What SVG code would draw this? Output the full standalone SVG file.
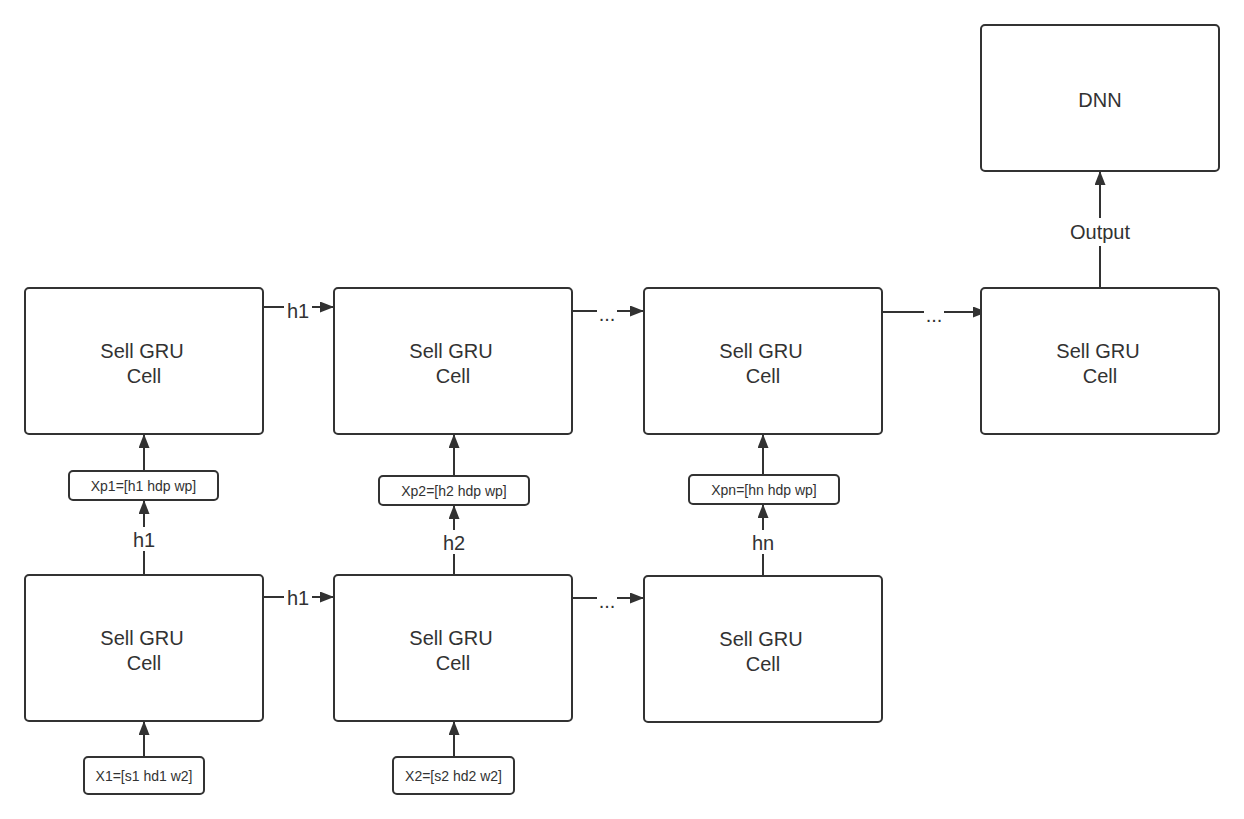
<svg xmlns="http://www.w3.org/2000/svg" width="1244" height="819" viewBox="0 0 1244 819">
<defs>
<marker id="arr" viewBox="0 0 14 11" refX="14" refY="5.5" markerWidth="14" markerHeight="11" markerUnits="userSpaceOnUse" orient="auto">
<path d="M0,0 L14,5.5 L0,11 Z" fill="#323232"/>
</marker>
</defs>
<style>
.box{fill:#fff;stroke:#323232;stroke-width:2}
.t{font-family:"Liberation Sans",Arial,sans-serif;font-size:20px;fill:#323232;text-anchor:middle}
.s{font-family:"Liberation Sans",Arial,sans-serif;font-size:14px;fill:#323232;text-anchor:middle}
.c{stroke:#323232;stroke-width:2;fill:none}
.lb{fill:#fff}
</style>
<rect width="1244" height="819" fill="#fff"/>
<g id="connectors">
<line class="c" x1="263" y1="307" x2="334" y2="307" marker-end="url(#arr)"/>
<rect class="lb" x="284" y="296" width="28" height="22"/>
<text class="t" x="298" y="318">h1</text>
<line class="c" x1="572" y1="311" x2="644" y2="311" marker-end="url(#arr)"/>
<rect class="lb" x="597" y="302" width="20" height="18"/>
<text class="t" x="607" y="321">...</text>
<line class="c" x1="882" y1="312" x2="987" y2="312" marker-end="url(#arr)"/>
<rect class="lb" x="924" y="303" width="20" height="18"/>
<text class="t" x="934" y="322">...</text>
<line class="c" x1="263" y1="597" x2="334" y2="597" marker-end="url(#arr)"/>
<rect class="lb" x="284" y="586" width="28" height="22"/>
<text class="t" x="298" y="605">h1</text>
<line class="c" x1="572" y1="598" x2="644" y2="598" marker-end="url(#arr)"/>
<rect class="lb" x="597" y="589" width="20" height="18"/>
<text class="t" x="607" y="608">...</text>
<line class="c" x1="144" y1="575" x2="144" y2="500" marker-end="url(#arr)"/>
<rect class="lb" x="130" y="527" width="28" height="24"/>
<text class="t" x="144" y="547">h1</text>
<line class="c" x1="144" y1="471" x2="144" y2="434" marker-end="url(#arr)"/>
<line class="c" x1="454" y1="575" x2="454" y2="505" marker-end="url(#arr)"/>
<rect class="lb" x="440" y="530" width="28" height="24"/>
<text class="t" x="454" y="550">h2</text>
<line class="c" x1="454" y1="476" x2="454" y2="434" marker-end="url(#arr)"/>
<line class="c" x1="763" y1="576" x2="763" y2="504" marker-end="url(#arr)"/>
<rect class="lb" x="749" y="530" width="28" height="24"/>
<text class="t" x="763" y="550">hn</text>
<line class="c" x1="763" y1="475" x2="763" y2="434" marker-end="url(#arr)"/>
<line class="c" x1="144" y1="757" x2="144" y2="721" marker-end="url(#arr)"/>
<line class="c" x1="454" y1="757" x2="454" y2="721" marker-end="url(#arr)"/>
<line class="c" x1="1100" y1="288" x2="1100" y2="171" marker-end="url(#arr)"/>
<rect class="lb" x="1062" y="218" width="76" height="28"/>
<text class="t" x="1100" y="239">Output</text>
</g>
<g id="dnn"><rect class="box" x="981" y="25" width="238" height="146" rx="4"/><text class="t" x="1100" y="107">DNN</text></g>
<g id="top1"><rect class="box" x="25" y="288" width="238" height="146" rx="4"/><text class="t" x="142" y="358">Sell GRU</text><text class="t" x="144" y="383">Cell</text></g>
<g id="top2"><rect class="box" x="334" y="288" width="238" height="146" rx="4"/><text class="t" x="451" y="358">Sell GRU</text><text class="t" x="453" y="383">Cell</text></g>
<g id="top3"><rect class="box" x="644" y="288" width="238" height="146" rx="4"/><text class="t" x="761" y="358">Sell GRU</text><text class="t" x="763" y="383">Cell</text></g>
<g id="top4"><rect class="box" x="981" y="288" width="238" height="146" rx="4"/><text class="t" x="1098" y="358">Sell GRU</text><text class="t" x="1100" y="383">Cell</text></g>
<g id="bot1"><rect class="box" x="25" y="575" width="238" height="146" rx="4"/><text class="t" x="142" y="645">Sell GRU</text><text class="t" x="144" y="670">Cell</text></g>
<g id="bot2"><rect class="box" x="334" y="575" width="238" height="146" rx="4"/><text class="t" x="451" y="645">Sell GRU</text><text class="t" x="453" y="670">Cell</text></g>
<g id="bot3"><rect class="box" x="644" y="576" width="238" height="146" rx="4"/><text class="t" x="761" y="646">Sell GRU</text><text class="t" x="763" y="671">Cell</text></g>
<g id="xp1"><rect class="box" x="69" y="471" width="149" height="29" rx="4"/><text class="s" x="143.5" y="490.5">Xp1=[h1 hdp wp]</text></g>
<g id="xp2"><rect class="box" x="379" y="476" width="150" height="29" rx="4"/><text class="s" x="454" y="495.5">Xp2=[h2 hdp wp]</text></g>
<g id="xpn"><rect class="box" x="689" y="475" width="150" height="29" rx="4"/><text class="s" x="764" y="494.5">Xpn=[hn hdp wp]</text></g>
<g id="x1"><rect class="box" x="84" y="757" width="120" height="37" rx="4"/><text class="s" x="144" y="780.5">X1=[s1 hd1 w2]</text></g>
<g id="x2"><rect class="box" x="393" y="757" width="121" height="37" rx="4"/><text class="s" x="453.5" y="780.5">X2=[s2 hd2 w2]</text></g>
</svg>
